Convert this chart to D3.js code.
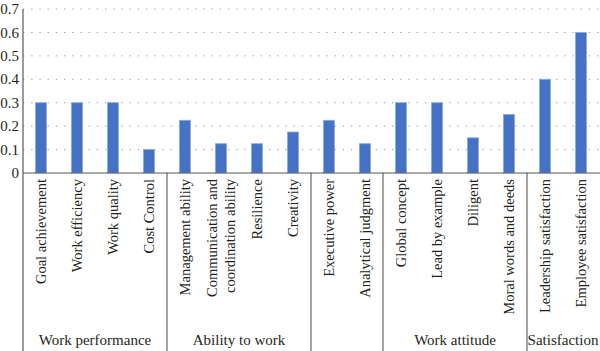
<!DOCTYPE html>
<html>
<head>
<meta charset="utf-8">
<script src="https://cdn.jsdelivr.net/npm/d3@7"></script>
<style>
  body { margin: 0; background: #fff; }
</style>
</head>
<body>
<svg></svg>
<script>
const width = 600;
const height = 351;

// data
const categories = [
  "Goal achievement", "Work efficiency", "Work quality", "Cost Control",
  "Management ability", "Communication and|coordination ability", "Resilience", "Creativity",
  "Executive power", "Analytical judgment",
  "Global concept", "Lead by example", "Diligent", "Moral words and deeds",
  "Leadership satisfaction", "Employee satisfaction"
];
const values = [0.3, 0.3, 0.3, 0.1, 0.225, 0.125, 0.125, 0.175, 0.225, 0.125, 0.3, 0.3, 0.15, 0.25, 0.4, 0.6];
const groups = ["Work performance", "Ability to work", "", "Work attitude", "Satisfaction"];
const groupSizes = [4, 4, 2, 4, 2];
const yTicks = [0, 0.1, 0.2, 0.3, 0.4, 0.5, 0.6, 0.7];

const margin = { left: 23, right: 1, top: 9, base: 173 };
const serif = "Liberation Serif";

const svg = d3.select("svg")
  .attr("width", width)
  .attr("height", height);

const x = d3.scaleBand()
  .domain(d3.range(categories.length))
  .range([margin.left, width - margin.right])
  .paddingInner(0.69)
  .paddingOuter(0.345);

const y = d3.scaleLinear()
  .domain([0, 0.7])
  .range([margin.base, margin.top]);

// dotted gridlines
svg.append("g")
  .selectAll("line")
  .data(yTicks.slice(1))
  .join("line")
  .attr("x1", margin.left)
  .attr("x2", width)
  .attr("y1", d => y(d))
  .attr("y2", d => y(d))
  .attr("stroke", "#9a9a9a")
  .attr("stroke-width", 1)
  .attr("stroke-dasharray", "1.3,6.9");

// y tick labels
svg.append("g")
  .selectAll("text")
  .data(yTicks)
  .join("text")
  .attr("x", 19)
  .attr("y", d => y(d))
  .attr("dy", "0.34em")
  .attr("text-anchor", "end")
  .attr("fill", "#231f20")
  .attr("font-family", serif)
  .attr("font-size", 15)
  .text(d => d === 0 ? "0" : d3.format(".1f")(d));

// bars
svg.append("g")
  .selectAll("rect")
  .data(values)
  .join("rect")
  .attr("x", (d, i) => x(i))
  .attr("y", d => y(d))
  .attr("width", x.bandwidth())
  .attr("height", d => y(0) - y(d))
  .attr("fill", "#4472c4")
  .attr("stroke", "#8eaadb")
  .attr("stroke-width", 0.8);

// axes lines
svg.append("line")
  .attr("x1", margin.left).attr("x2", width)
  .attr("y1", y(0)).attr("y2", y(0))
  .attr("stroke", "#595959").attr("stroke-width", 1.2);

svg.append("line")
  .attr("x1", margin.left).attr("x2", margin.left)
  .attr("y1", margin.top).attr("y2", height)
  .attr("stroke", "#595959").attr("stroke-width", 1.2);

// group separators
const step = x.step();
const x0 = margin.left;
let acc = 0;
const bounds = groupSizes.map(n => {
  const b = [acc, acc + n];
  acc += n;
  return b;
});

svg.append("g")
  .selectAll("line")
  .data(bounds.slice(0, -1))
  .join("line")
  .attr("x1", d => x0 + d[1] * step)
  .attr("x2", d => x0 + d[1] * step)
  .attr("y1", y(0))
  .attr("y2", height)
  .attr("stroke", "#595959")
  .attr("stroke-width", 1.1);

// category labels, rotated
const labels = svg.append("g")
  .selectAll("text")
  .data(categories)
  .join("text")
  .attr("transform", (d, i) => `translate(${x(i) + x.bandwidth() / 2},179) rotate(-90)`)
  .attr("text-anchor", "end")
  .attr("fill", "#231f20")
  .attr("font-family", serif)
  .attr("font-size", 14.5);

labels.each(function(d) {
  const parts = d.split("|");
  const t = d3.select(this);
  if (parts.length === 1) {
    t.append("tspan").attr("x", 0).attr("y", 0).attr("dy", "0.34em").text(parts[0]);
  } else {
    t.append("tspan").attr("x", 0).attr("y", -9).attr("dy", "0.34em").text(parts[0]);
    t.append("tspan").attr("x", 0).attr("y", 9).attr("dy", "0.34em").text(parts[1]);
  }
});

// group labels
svg.append("g")
  .selectAll("text")
  .data(bounds)
  .join("text")
  .attr("x", (d, i) => x0 + (d[0] + d[1]) / 2 * step)
  .attr("y", 345)
  .attr("text-anchor", "middle")
  .attr("fill", "#231f20")
  .attr("font-family", serif)
  .attr("font-size", 15)
  .text((d, i) => groups[i]);
</script>
</body>
</html>
